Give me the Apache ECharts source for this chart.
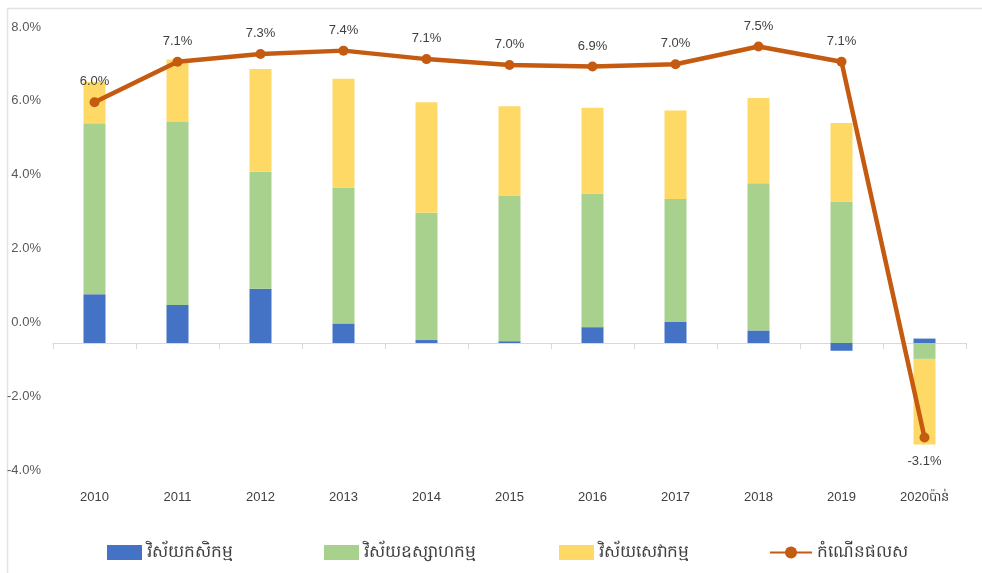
<!DOCTYPE html>
<html>
<head>
<meta charset="utf-8">
<script src="https://cdn.jsdelivr.net/npm/echarts@6/dist/echarts.min.js"></script>
<style>
  html, body { margin: 0; padding: 0; background: #fff; }
  #main { width: 982px; height: 573px; }
</style>
</head>
<body>
<div id="main"></div>
<script>
// years on the category axis
const years = ["2010", "2011", "2012", "2013", "2014", "2015", "2016", "2017", "2018", "2019", "2020ប៉ាន់"];
// sector contributions (bars, stacked)
const agriculture = [1.32, 1.03, 1.47, 0.53, 0.08, 0.05, 0.43, 0.57, 0.34, -0.21, 0.12];
const industry = [4.63, 4.96, 3.17, 3.68, 3.45, 3.93, 3.62, 3.33, 3.99, 3.83, -0.43];
const services = [1.12, 1.69, 2.78, 2.95, 2.99, 2.43, 2.32, 2.40, 2.31, 2.13, -2.32];
// GDP growth (line)
const growth = [5.96, 7.06, 7.27, 7.36, 7.13, 6.97, 6.93, 6.99, 7.47, 7.06, -3.12];
const yTicks = [-4, 8, 2]; // min, max, interval

const names = ["វិស័យកសិកម្ម", "វិស័យឧស្សាហកម្ម", "វិស័យសេវាកម្ម", "កំណើនផលស"];
const colors = ["#4472C4", "#A9D18E", "#FFD966", "#C55A11"];

const font = "'Liberation Sans', 'Noto Sans', sans-serif";
const chart = echarts.init(document.getElementById("main"));

const barSeries = [agriculture, industry, services].map((arr, i) => ({
  name: names[i],
  type: "bar",
  stack: "sectors",
  yAxisIndex: 1,
  barWidth: 22,
  itemStyle: { color: colors[i] },
  data: arr
}));

const legendLeft = [102, 319, 554, 764];

const option = {
  animation: false,
  grid: { left: 53, right: 16, top: 27, bottom: 103 },
  legend: names.map((n, i) => ({
    data: [i === 3 ? n : { name: n, icon: "rect" }],
    left: legendLeft[i],
    top: 539,
    itemWidth: i === 3 ? 42 : 35,
    itemHeight: 15,
    itemGap: 8,
    textStyle: { fontFamily: font, fontSize: 17, color: "#404040" }
  })),
  xAxis: [
    {
      type: "category",
      data: years,
      position: "bottom",
      axisLine: { show: false },
      axisTick: { show: false },
      axisLabel: { margin: 21, fontFamily: font, fontSize: 13, color: "#404040" }
    },
    {
      type: "category",
      data: years,
      position: "bottom",
      axisLine: { show: true, onZero: true, onZeroAxisIndex: 1, lineStyle: { color: "#d9d9d9", width: 1 } },
      axisTick: { show: true, length: 6, lineStyle: { color: "#d9d9d9" } },
      axisLabel: { show: false }
    }
  ],
  yAxis: [
    {
      type: "value",
      min: yTicks[0],
      max: yTicks[1],
      interval: yTicks[2],
      axisLine: { show: false },
      axisTick: { show: false },
      splitLine: { show: false },
      axisLabel: {
        margin: 12,
        fontFamily: font,
        fontSize: 13,
        color: "#595959",
        formatter: v => v.toFixed(1) + "%"
      }
    },
    {
      type: "value",
      min: -3.44,
      max: 8.56,
      show: false,
      splitLine: { show: false }
    }
  ],
  series: barSeries.concat([{
    name: names[3],
    type: "line",
    yAxisIndex: 0,
    z: 5,
    symbol: "circle",
    symbolSize: 10,
    lineStyle: { color: colors[3], width: 4.5 },
    itemStyle: { color: colors[3] },
    label: {
      show: true,
      position: "top",
      distance: 9,
      fontFamily: font,
      fontSize: 13,
      color: "#404040",
      formatter: p => p.value.toFixed(1) + "%"
    },
    data: growth.map(v => v < 0 ? { value: v, label: { position: "bottom", distance: 12 } } : v)
  }]),
  graphic: [
    { type: "line", silent: true, shape: { x1: 7.5, y1: 8.5, x2: 982, y2: 8.5 }, style: { stroke: "#e3e3e3", lineWidth: 1.5 } },
    { type: "line", silent: true, shape: { x1: 7.5, y1: 8.5, x2: 7.5, y2: 573 }, style: { stroke: "#e3e3e3", lineWidth: 1.5 } }
  ]
};

chart.setOption(option);
</script>
</body>
</html>
